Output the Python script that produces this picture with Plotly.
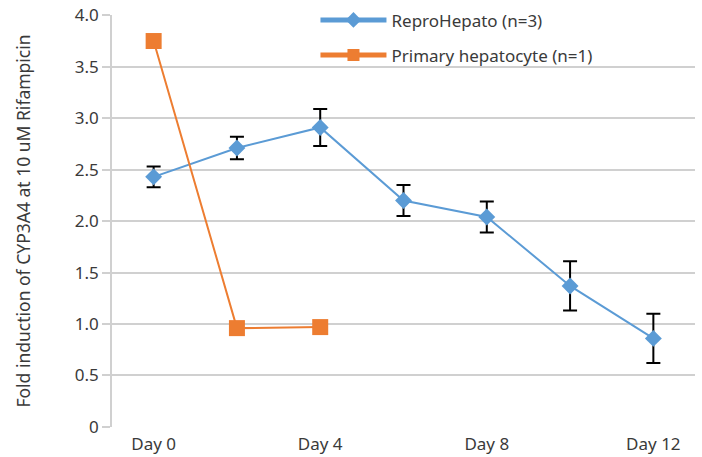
import plotly.graph_objects as go

days = ["Day 0", "Day 2", "Day 4", "Day 6", "Day 8", "Day 10", "Day 12"]
tick_labels = ["Day 0", "", "Day 4", "", "Day 8", "", "Day 12"]
repro = [2.43, 2.71, 2.91, 2.20, 2.04, 1.37, 0.86]
repro_err = [0.10, 0.11, 0.18, 0.15, 0.15, 0.24, 0.24]
primary_days = ["Day 0", "Day 2", "Day 4"]
primary = [3.75, 0.96, 0.97]
y_ticks = [0, 0.5, 1.0, 1.5, 2.0, 2.5, 3.0, 3.5, 4.0]
y_tick_labels = ["0", "0.5", "1.0", "1.5", "2.0", "2.5", "3.0", "3.5", "4.0"]

font_family = "Noto Sans, Open Sans, sans-serif"
text_color = "#3a3a3a"

fig = go.Figure()
fig.add_trace(go.Scatter(
    x=days, y=repro, name="ReproHepato (n=3)", mode="lines+markers",
    line=dict(color="#5b9bd5", width=2),
    marker=dict(symbol="diamond", size=13, color="#5b9bd5"),
    error_y=dict(type="data", array=repro_err, visible=True,
                 color="black", thickness=2, width=7),
    legend="legend", showlegend=True,
))
fig.add_trace(go.Scatter(
    x=primary_days, y=primary, name="Primary hepatocyte (n=1)", mode="lines+markers",
    line=dict(color="#ed7d31", width=2),
    marker=dict(symbol="square", size=16, color="#ed7d31"),
    legend="legend2", showlegend=True,
))

legend_common = dict(
    font=dict(family=font_family, size=17, color=text_color),
    bgcolor="rgba(0,0,0,0)", xanchor="left", yanchor="middle",
    itemwidth=66, itemsizing="constant", visible=True,
)
fig.update_layout(
    width=702, height=457,
    margin=dict(l=112, r=7, t=15, b=30, autoexpand=False),
    showlegend=True,
    paper_bgcolor="white", plot_bgcolor="white",
    font=dict(family=font_family, size=17, color=text_color),
    legend=dict(x=0.349, y=0.987, **legend_common),
    legend2=dict(x=0.349, y=0.902, **legend_common),
    xaxis=dict(
        type="category", categoryorder="array", categoryarray=days,
        tickmode="array", tickvals=days, ticktext=tick_labels,
        range=[-0.5, 6.5], showgrid=False, showline=False, ticks="",
        tickfont=dict(size=17, color=text_color), automargin=False,
        ticklabelstandoff=5,
    ),
    yaxis=dict(
        range=[-0.001, 4.003], tickmode="array",
        tickvals=y_ticks, ticktext=y_tick_labels,
        showgrid=True, gridcolor="#d0d0d0", gridwidth=1.5,
        zeroline=False, showline=True, linecolor="#d0d0d0", linewidth=1.5,
        ticks="outside", ticklen=8, tickcolor="#d0d0d0", tickwidth=1.5,
        tickfont=dict(size=17, color=text_color), automargin=False,
        ticklabeloverflow="allow",
        title=dict(text="Fold induction of CYP3A4 at 10 uM Rifampicin",
                   font=dict(size=17.5, color=text_color), standoff=40),
    ),
)

fig.write_html("out.html", config={"displayModeBar": False},
               post_script="document.body.style.margin='0';")
